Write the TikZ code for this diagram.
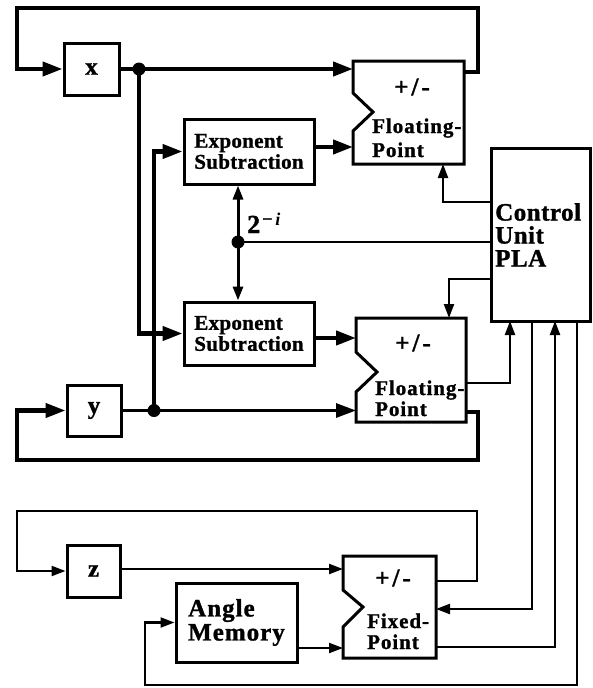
\documentclass[tikz,border=0pt]{standalone}
\usepackage{fontspec}
\setmainfont[BoldFeatures={FakeBold=1.2}]{Liberation Serif}
\newfontfamily\lblfont[LetterSpace=1.5,BoldFeatures={FakeBold=1.2}]{Liberation Serif}
\newfontfamily\fpfont[LetterSpace=4.5,BoldFeatures={FakeBold=1.2}]{Liberation Serif}
\newfontfamily\amfont[LetterSpace=4,BoldFeatures={FakeBold=1.2}]{Liberation Serif}
\newfontfamily\pmfont[LetterSpace=12,BoldFeatures={FakeBold=1.2}]{Liberation Serif}
\newfontfamily\cufont[LetterSpace=2,BoldFeatures={FakeBold=1.2}]{Liberation Serif}
\usetikzlibrary{arrows.meta}
\begin{document}
\begin{tikzpicture}[x=1pt,y=-1pt,
  thk/.style={line width=4.2pt},
  med/.style={line width=3pt},
  thn/.style={line width=2.2pt},
  big/.style={-{Triangle[length=20pt,width=14pt]}},
  sml/.style={-{Triangle[length=14pt,width=10pt]}},
  box/.style={draw, line width=3pt, inner sep=0pt},
  boxline/.style={line width=3pt, line join=miter},
  lbl/.style={font=\lblfont\bfseries\fontsize{21}{21}\selectfont, align=left, inner sep=0pt},
  fplbl/.style={font=\fpfont\bfseries\fontsize{21}{21}\selectfont, inner sep=0pt, anchor=base west},
  pm/.style={font=\pmfont\bfseries\fontsize{25}{25}\selectfont, inner sep=0pt},
  var/.style={box, font=\bfseries\fontsize{25}{25}\selectfont},
  dot/.style={circle, fill, inner sep=0pt, minimum size=13pt}
]
\useasboundingbox (0,0) rectangle (592,688);

% ---- boxes
\node[var, minimum width=55pt, minimum height=52pt] (x) at (91.5,69) {x};
\node[var, minimum width=54pt, minimum height=51pt] (y) at (94,410.5) {y};
\node[var, minimum width=53pt, minimum height=52pt] (z) at (93.5,571) {z};
\node[box, lbl, minimum width=130pt, minimum height=65pt] (es1) at (249,151.5) {Exponent\\Subtraction};
\node[box, lbl, minimum width=130pt, minimum height=63pt] (es2) at (249,333.5) {Exponent\\Subtraction};
\node[box, font=\amfont\bfseries\fontsize{25}{24}\selectfont, align=left, minimum width=121pt, minimum height=79pt] (am) at (236.5,622.5) {Angle\\Memory};
\node[box, minimum width=99pt, minimum height=173pt] (cu) at (540.5,234.5) {};
\node[font=\cufont\bfseries\fontsize{25}{23}\selectfont, align=left, anchor=north west, inner sep=0pt] (cut) at (495,203) {Control\\Unit\\PLA};

% ---- adder / subtractor shapes
\draw[boxline] (353,61) -- (464,61) -- (464,164) -- (353,164) -- (353,131) -- (373,112) -- (353,93) -- cycle;
\node[pm] (pm1) at (412,87) {+/-};
\node[fplbl] (fl1) at (372,133) {Floating-};
\node[fplbl] (po1) at (372,157) {Point};

\draw[boxline] (356,318) -- (466,318) -- (466,422) -- (356,422) -- (356,392) -- (377,372) -- (356,352) -- cycle;
\node[pm] (pm2) at (413,343) {+/-};
\node[fplbl] (fl2) at (375,395) {Floating-};
\node[fplbl] (po2) at (375,416) {Point};

\draw[boxline] (343,556) -- (436,556) -- (436,658) -- (343,658) -- (343,627) -- (363,607) -- (343,590) -- cycle;
\node[pm] (pm3) at (393,578) {+/-};
\node[fplbl] (fx3) at (367,628) {Fixed-};
\node[fplbl] (po3) at (367,649) {Point};

% ---- ports
\coordinate (fp1a) at (353,69);
\coordinate (fp1b) at (353,147);
\coordinate (fp1c) at (443,164);
\coordinate (fp1o) at (464,72);
\coordinate (fp2a) at (356,410.5);
\coordinate (fp2b) at (356,338);
\coordinate (fp2c) at (449,318);
\coordinate (fp2o) at (466,383);
\coordinate (fp2l) at (466,412);
\coordinate (fxa) at (343,569);
\coordinate (fxb) at (343,648);
\coordinate (fxc) at (436,609);
\coordinate (fxo) at (436,647);
\coordinate (fxl) at (436,581);
\coordinate (cuA) at (491,202);
\coordinate (cuB) at (491,242);
\coordinate (cuC) at (491,279);
\coordinate (cuD) at (510,321);
\coordinate (cuE) at (532,321);
\coordinate (cuF) at (555,321);
\coordinate (cuG) at (577,321);
\coordinate (topR) at (478,8);
\coordinate (topL) at (17,8);
\coordinate (yR) at (478,460);
\coordinate (yL) at (17,460);
\coordinate (zR) at (477,511);
\coordinate (zL) at (17,511);
\coordinate (amBL) at (145,685);

% ---- dots
\node[dot] (xd) at (139,69) {};
\node[dot] (yd) at (154,410.5) {};
\node[dot] (dd) at (238,242) {};

% ---- connectors
\draw[thk,big] (fp1o) -| (topR) -- (topL) |- (x.west);
\draw[thk,big] (x.east) -- (fp1a);
\draw[thk,big] (xd.center) |- (es2.west);
\draw[thk,big] (yd.center) |- (es1.west);
\draw[thk,big] (es1.east |- fp1b) -- (fp1b);
\draw[thk,big] (es2.east |- fp2b) -- (fp2b);
\draw[med,big] (y.east) -- (fp2a);
\draw[thk,big] (fp2l) -| (yR) -- (yL) |- (y.west);

\draw[thn,sml] (cuA) -| (fp1c);
\draw[thn] (cuB) -- (dd.center);
\draw[med,sml] (dd.center) -- (dd.center |- es1.south);
\draw[med,sml] (dd.center) -- (dd.center |- es2.north);
\draw[thn,sml] (cuC) -| (fp2c);
\draw[thn,sml] (fp2o) -| (cuD);

\draw[thn,sml] (fxl) -| (zR) -- (zL) |- (z.west);
\draw[thn,sml] (z.east |- fxa) -- (fxa);
\draw[thn,sml] (am.east |- fxb) -- (fxb);
\draw[thn,sml] (cuE) |- (fxc);
\draw[thn,sml] (fxo) -| (cuF);
\draw[thn,sml] (cuG) |- (amBL) |- (am.west);

% ---- 2^{-i} label
\node[anchor=base west, inner sep=0pt] (two) at (247,233)
  {\bfseries\fontsize{26}{26}\selectfont 2\kern2pt\raisebox{8pt}{\fontsize{18}{18}\selectfont\textbf{−}\kern3pt\textbf{\textit{i}}}};
\end{tikzpicture}
\end{document}
